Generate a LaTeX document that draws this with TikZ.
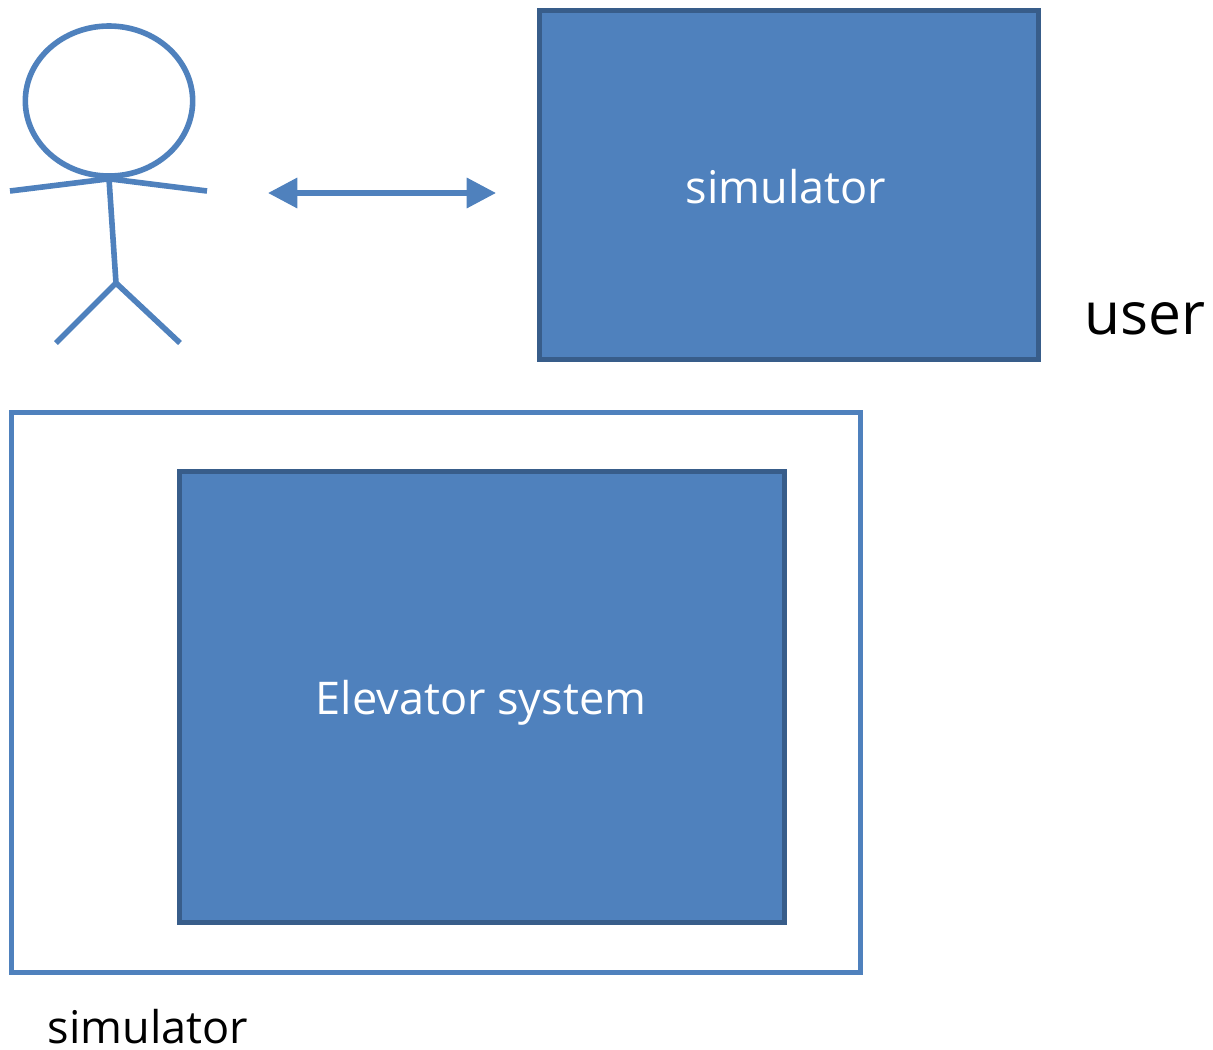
\documentclass[tikz,border=0pt]{standalone}
\usepackage{fontspec}
\setmainfont{Open Sans}
\usetikzlibrary{arrows.meta,shapes.geometric}
\definecolor{fillb}{HTML}{4F81BD}
\definecolor{edgeb}{HTML}{385D8A}
\tikzset{
  x=0.75pt,y=-0.75pt,
  solidbox/.style={draw=edgeb,fill=fillb,line width=3.8pt,inner sep=0,text=white},
  figline/.style={draw=fillb,line width=4.2pt},
  boxtext/.style={inner sep=0,text=white,font=\fontsize{33.8}{36}\selectfont},
  lbl/.style={inner sep=0,text=black,font=\fontsize{33.8}{36}\selectfont}
}
\begin{document}
\begin{tikzpicture}
\useasboundingbox (0,0) rectangle (1213,1049);
% stick figure
\node[figline,ellipse,inner sep=0,minimum width=125.5pt,minimum height=112.5pt] (head) at (109,101) {};
\coordinate (neck) at (head.south);
\coordinate (handl) at (10,191);
\coordinate (handr) at (207,191);
\coordinate (hip) at (116,283);
\coordinate (footl) at (56,343);
\coordinate (footr) at (180,343);
\draw[figline] (handl) -- (neck) -- (handr);
\draw[figline] (neck) -- (hip);
\draw[figline] (footl) -- (hip) -- (footr);
% simulator box
\node[solidbox,minimum width=374.5pt,minimum height=262pt] (sim) at (789,185) {};
\node[boxtext] (simtext) at (786,187) {simulator};
% arrow
\coordinate (al) at (268,193);
\coordinate (ar) at (496,193);
\draw[figline,{Triangle[length=22pt,width=22pt]}-{Triangle[length=22pt,width=22pt]},fill=fillb] (al) -- (ar);
% user
\node[lbl,font=\fontsize{44}{46}\selectfont] (user) at (1145,319) {user};
% outer
\node[draw=fillb,line width=3.8pt,inner sep=0,minimum width=637pt,minimum height=420.5pt] (outer) at (436,692.5) {};
\node[solidbox,minimum width=453.5pt,minimum height=338.5pt] (elev) at (482,697) {};
\node[boxtext] (elevtext) at (481,703) {Elevator system};
\node[lbl] (simlbl) at (148,1026.5) {simulator};
\end{tikzpicture}
\end{document}
